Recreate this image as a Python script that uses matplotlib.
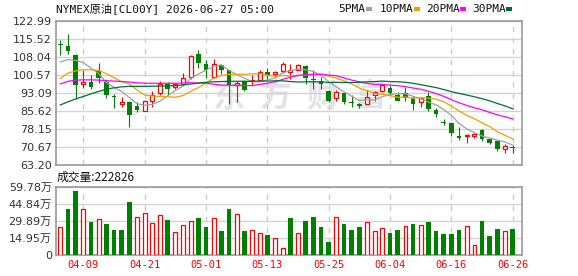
import matplotlib
matplotlib.use("Agg")
import matplotlib.pyplot as plt
from matplotlib.patches import Rectangle
import numpy as np
import pandas as pd

# ── Data ──────────────────────────────────────────────────────────────────────
dates = pd.bdate_range("2026-04-06", periods=60).strftime("%m-%d").tolist()

opens = [113.0, 112.6, 108.8, 97.0, 97.9, 102.3, 97.9, 91.8, 88.4, 89.5,
         87.9, 85.7, 89.9, 93.1, 96.7, 95.6, 96.7, 99.8, 109.2, 105.1,
         99.8, 104.8, 102.5, 96.6, 98.1, 98.1, 98.7, 101.9, 101.2, 102.3,
         101.9, 102.8, 104.2, 98.8, 98.1, 93.8, 91.0, 93.1, 89.5, 88.6,
         88.6, 92.5, 93.8, 95.3, 92.5, 93.1, 91.1, 89.3, 92.1, 86.3,
         81.1, 80.9, 75.4, 75.2, 75.2, 77.8, 74.0, 73.1, 69.9, 70.7]
highs = [115.3, 117.8, 109.2, 102.5, 100.5, 105.6, 98.4, 92.8, 91.6, 90.0,
         89.5, 90.2, 93.8, 98.1, 97.8, 97.5, 101.6, 108.9, 110.9, 107.0,
         107.4, 105.3, 102.8, 98.0, 98.7, 100.5, 102.5, 103.5, 102.1, 106.0,
         105.3, 105.3, 104.9, 102.5, 99.8, 94.2, 94.2, 93.5, 92.5, 89.1,
         94.5, 93.8, 96.7, 95.9, 93.5, 95.6, 92.1, 91.7, 93.5, 87.0,
         82.2, 81.1, 78.9, 76.1, 76.5, 78.2, 74.5, 73.3, 72.2, 71.5]
lows = [109.1, 109.5, 90.7, 95.2, 94.8, 97.3, 91.0, 86.8, 87.5, 78.9,
        85.2, 85.5, 87.5, 92.3, 92.5, 94.9, 96.3, 99.1, 103.5, 99.4,
        99.4, 101.2, 88.6, 89.6, 93.9, 96.3, 98.4, 98.7, 99.8, 101.6,
        99.1, 102.5, 97.0, 94.9, 94.9, 89.3, 90.0, 88.6, 87.5, 87.0,
        88.4, 90.0, 93.5, 92.5, 89.8, 90.0, 86.1, 87.3, 85.6, 83.1,
        79.7, 75.2, 73.8, 72.6, 74.7, 73.3, 72.2, 69.2, 68.5, 68.1]
closes = [112.9, 110.6, 96.6, 97.9, 95.6, 99.4, 92.3, 91.7, 89.5, 83.9,
          86.1, 89.9, 92.3, 96.7, 94.8, 96.7, 99.5, 108.5, 105.6, 102.5,
          105.1, 102.5, 96.6, 97.5, 94.6, 98.4, 101.9, 100.5, 101.9, 105.3,
          102.5, 104.6, 99.5, 98.5, 96.7, 90.0, 93.5, 89.3, 89.2, 87.8,
          91.7, 93.4, 96.3, 93.1, 90.0, 91.1, 88.4, 91.1, 86.6, 84.5,
          80.9, 76.4, 74.5, 75.4, 76.1, 74.0, 72.6, 69.9, 71.3, 70.4]

ma5 = [106.0, 107.0, 106.7, 105.7, 103.5, 101.2, 97.5, 95.5, 93.8, 91.3,
       88.7, 88.1, 88.4, 89.8, 92.0, 94.2, 96.0, 99.2, 101.0, 102.6,
       104.2, 104.8, 102.5, 100.8, 99.3, 97.9, 97.8, 98.6, 99.4, 101.5,
       102.4, 103.0, 102.8, 102.1, 100.4, 97.9, 95.7, 93.6, 91.8, 90.0,
       90.3, 90.3, 91.7, 92.5, 92.9, 92.8, 91.8, 90.8, 89.4, 88.3,
       86.3, 83.9, 80.5, 78.3, 76.7, 75.3, 74.5, 73.6, 72.8, 71.6]
ma10 = [99.1, 101.4, 102.3, 102.8, 102.8, 102.5, 101.2, 99.5, 97.9, 96.9,
        94.4, 92.3, 91.9, 91.7, 91.6, 91.4, 92.1, 93.8, 95.4, 97.3,
        99.2, 100.4, 100.9, 100.9, 100.9, 101.1, 101.3, 100.5, 100.1, 100.4,
        100.2, 100.4, 100.7, 100.8, 101.0, 100.1, 99.3, 98.2, 96.9, 95.2,
        94.1, 93.0, 92.6, 92.1, 91.4, 91.5, 91.0, 91.2, 91.0, 90.6,
        89.5, 87.8, 85.7, 83.9, 82.5, 80.8, 79.2, 77.1, 75.6, 74.1]
ma20 = [96.9, 98.0, 98.5, 98.6, 98.6, 98.5, 98.3, 98.1, 97.9, 97.7,
        97.4, 97.2, 97.2, 97.2, 97.2, 97.2, 97.3, 97.4, 97.3, 97.2,
        96.8, 96.4, 96.4, 96.3, 96.3, 96.2, 96.7, 97.2, 97.8, 98.8,
        99.7, 100.4, 100.8, 100.9, 100.9, 100.6, 100.3, 99.4, 98.5, 97.8,
        97.1, 96.7, 96.7, 96.4, 96.2, 95.8, 95.2, 94.7, 93.9, 92.9,
        91.8, 90.4, 89.1, 88.0, 87.0, 86.2, 85.1, 84.1, 83.3, 82.4]
ma30 = [88.2, 89.5, 90.7, 91.7, 92.8, 93.8, 94.7, 95.3, 95.7, 95.9,
        95.9, 95.9, 96.0, 96.0, 96.1, 96.2, 96.5, 96.9, 97.3, 97.6,
        97.8, 97.9, 98.0, 98.0, 98.0, 98.0, 98.1, 98.1, 98.2, 98.2,
        97.9, 97.7, 97.8, 97.8, 97.8, 97.5, 97.6, 97.5, 97.5, 97.6,
        97.8, 97.9, 98.1, 97.9, 97.8, 97.6, 97.2, 96.6, 96.0, 95.4,
        94.6, 93.7, 93.0, 92.3, 91.6, 90.8, 89.9, 88.8, 87.8, 86.6]

# volume in 万 (10k lots); 1 = close above previous close (red), 0 = green
volumes = [24.3, 40.1, 56.3, 40.1, 28.7, 31.4, 27.0, 21.7, 21.7, 46.3,
           32.8, 36.3, 27.5, 34.6, 30.5, 19.6, 25.8, 29.3, 32.2, 24.3,
           31.9, 20.8, 40.1, 35.5, 20.8, 21.4, 18.8, 17.3, 14.7, 5.9,
           32.2, 18.8, 29.6, 33.1, 24.3, 11.1, 32.8, 27.0, 21.7, 24.3,
           28.4, 20.5, 23.1, 19.0, 21.7, 24.9, 27.0, 25.8, 28.7, 20.8,
           18.2, 18.2, 21.7, 24.9, 8.2, 29.6, 16.4, 22.6, 20.5, 22.28]
vol_up = [1, 0, 0, 1, 0, 1, 0, 0, 0, 0,
          1, 1, 1, 1, 0, 1, 1, 1, 0, 0,
          1, 0, 0, 1, 0, 1, 1, 0, 1, 1,
          0, 1, 0, 0, 0, 0, 1, 0, 0, 0,
          1, 1, 1, 0, 0, 1, 0, 1, 0, 0,
          0, 0, 0, 1, 1, 0, 0, 0, 1, 0]

price_ticks = [63.20, 70.67, 78.15, 85.62, 93.09, 100.57, 108.04, 115.52, 122.99]
vol_ticks = [0, 14.95, 29.89, 44.84, 59.78]
vol_tick_labels = ["0", "14.95万", "29.89万", "44.84万", "59.78万"]
last_volume = 222826
title = "NYMEX原油[CL00Y] 2026-06-27 05:00"
watermark = "东方财富"

# ── Style ─────────────────────────────────────────────────────────────────────
RED = "#ff0000"
GREEN = "#008000"
SPINE = "#999999"
GRID = "#d4d4d4"
MA_STYLE = [("5PMA", ma5, "#a0a0a0"), ("10PMA", ma10, "#f0a000"),
            ("20PMA", ma20, "#ff00ff"), ("30PMA", ma30, "#006f35")]
CJK = ["DejaVu Sans", "Noto Sans CJK SC"]
MONO = ["DejaVu Sans Mono", "Noto Sans CJK SC"]

W, H = 578, 276
fig = plt.figure(figsize=(W / 100, H / 100), dpi=100)


def fx(px):
    return px / W


def fy(py):
    return 1 - py / H


ax = fig.add_axes([fx(56), fy(165.3), fx(522) - fx(56), fy(21) - fy(165.3)])
axv = fig.add_axes([fx(56), fy(254.7), fx(522) - fx(56), fy(186.7) - fy(254.7)])

x = np.arange(len(closes))
o, h, l, c = (np.array(a) for a in (opens, highs, lows, closes))
up = c > o
lo = np.minimum(o, c)
hi = np.maximum(o, c)
body = np.maximum(hi - lo, 0.4)

# faint watermark behind the candles
wm_x = [0.370, 0.471, 0.572, 0.673]
for ch, xx in zip(watermark, wm_x):
    ax.text(xx, 0.47, ch, transform=ax.transAxes, ha="center", va="center",
            fontsize=23, fontweight="bold", color="#e3e3e8",
            family=["Noto Sans CJK SC"], zorder=0)

# candles: green filled = down, red hollow = up
ax.vlines(x[~up], l[~up], h[~up], color=GREEN, lw=0.8, zorder=2)
ax.vlines(x[up], l[up], lo[up], color=RED, lw=0.8, zorder=2)
ax.vlines(x[up], hi[up], h[up], color=RED, lw=0.8, zorder=2)
ax.bar(x[~up], body[~up], bottom=lo[~up], width=0.62, color=GREEN, lw=0, zorder=3)
ax.bar(x[up], body[up], bottom=lo[up], width=0.52, facecolor="white",
       edgecolor=RED, lw=0.9, zorder=3)

for name, vals, col in MA_STYLE:
    ax.plot(x, vals, color=col, lw=0.9, zorder=4)

# volume
vu = np.array(vol_up, dtype=bool)
v = np.array(volumes)
axv.bar(x[~vu], v[~vu], width=0.6, color=GREEN, lw=0, zorder=3)
axv.bar(x[vu], v[vu], width=0.5, facecolor="white", edgecolor=RED, lw=0.9, zorder=3)

tick_idx = list(range(3, len(dates), 8))

for a in (ax, axv):
    a.set_xlim(-0.56, 60.2)
    a.set_xticks(tick_idx)
    a.grid(axis="y", color=GRID, lw=1, ls="-", zorder=0)
    a.grid(axis="x", color="#cccccc", lw=1, ls=(0, (4, 4)), zorder=0)
    a.set_axisbelow(True)
    for s in a.spines.values():
        s.set_color(SPINE)
        s.set_linewidth(1.2)
    a.tick_params(length=0, labelsize=8, labelcolor="#333333", pad=3)

ax.set_ylim(price_ticks[0], price_ticks[-1])
ax.set_yticks(price_ticks)
ax.set_yticklabels([f"{t:.2f}" for t in price_ticks])
ax.set_xticklabels([])

axv.set_ylim(0, vol_ticks[-1])
axv.set_yticks(vol_ticks)
axv.set_yticklabels(vol_tick_labels, family=CJK)
axv.set_xticklabels([dates[i] for i in tick_idx], color=RED, family=MONO,
                    fontsize=7.5)
axv.tick_params(axis="x", pad=4)

# header texts
fig.text(fx(56), fy(9), title, family=MONO, fontsize=8, va="center", ha="left",
         color="#111111")
fig.text(fx(57), fy(177), f"成交量:{last_volume}", family=["Noto Sans CJK SC"],
         fontsize=8.5, va="center", ha="left", color="#111111")

leg_x = [338, 380, 426, 472]
for (name, vals, col), lx in zip(MA_STYLE, leg_x):
    fig.text(fx(lx), fy(9), name, family=MONO, fontsize=8, va="center",
             ha="left", color="#111111")
    mx = lx + 6.4 * len(name) + 2
    fig.patches.append(Rectangle((fx(mx), fy(10.5)), fx(6), fy(7.5) - fy(10.5),
                                 transform=fig.transFigure, color=col, lw=0))

fig.savefig("out.png", dpi=100)
